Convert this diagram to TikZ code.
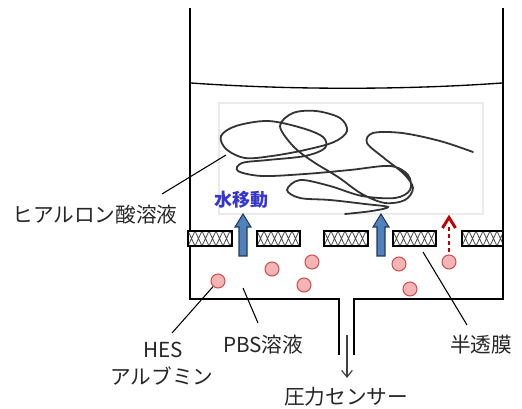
\documentclass[tikz,border=0pt]{standalone}
\usepackage{fontspec}
\setmainfont{Noto Sans CJK JP}
\usetikzlibrary{arrows.meta,calc}

\definecolor{flowblue}{HTML}{4F81BD}
\definecolor{flowedge}{HTML}{203A5C}
\definecolor{leakred}{HTML}{C00000}
\definecolor{beadfill}{HTML}{F4B4B4}
\definecolor{beadedge}{HTML}{C9504D}
\definecolor{tagblue}{HTML}{3535CF}
\definecolor{chainc}{HTML}{333333}

\tikzset{
  wall/.style={line width=1.9pt, line join=miter},
  leader/.style={line width=0.8pt, black},
  lbl/.style={font=\fontsize{15.5}{18}\selectfont, inner sep=0pt, text=black!85},
  membrane/.style={draw=black, line width=1.4pt, fill=white, inner sep=0pt,
    minimum height=11.25pt,
    path picture={
      \foreach \k in {-1,0,...,9}{
        \draw[black!70, line width=0.6pt]
          ($(path picture bounding box.north west)+(\k*5.25pt,0)$) -- ++(5.25pt,-11.25pt)
          ++(-5.25pt,0) -- ++(5.25pt,11.25pt);
      }}},
  bead/.style={circle, draw=beadedge, fill=beadfill, line width=0.8pt,
    minimum size=10.5pt, inner sep=0pt},
  waterflow/.style={draw=flowedge, fill=flowblue, line width=0.8pt, line join=miter},
}

\begin{document}
\begin{tikzpicture}[x=0.75pt, y=-0.75pt]
\useasboundingbox (0,0) rectangle (522,409);

% vessel walls with the outlet to the sensor
\draw[wall] (190,8) -- (190,299) -- (339,299) -- (339,355);
\draw[wall] (354,355) -- (354,299) -- (503,299) -- (503,8);

% liquid surface
\draw[line width=1pt] (191,83) .. controls (290,90) and (405,90) .. (502,83);

% light frame around the polymer chain
\draw[black!8, line width=0.8pt] (219,103) rectangle (483,214);

% hyaluronic acid chain
\draw[chainc, line width=1.35pt, line cap=round]
  plot[smooth, tension=0.55] coordinates {
   (473,152) (440,141) (402,133) (373,133) (367,143) (384,158) (404,174)
   (413,188) (405,200) (385,203) (362,194) (338,177) (312,161) (293,146)
   (280,126) (293,113) (316,111) (340,118) (347,131) (334,142) (305,150)
   (272,156) (245,158) (226,149) (221,136) (236,126) (268,121) (302,128)
   (323,137) (325,148) (305,156) (268,160) (242,163) (238,171) (262,176)
   (305,174) (350,170) (390,166) (408,175) (410,190) (395,198) (362,196)
   (330,186) (300,180) (287,190) (300,198) (330,200) (365,204) (388,207)
   (372,211) (345,214)};

% semipermeable membrane segments
\node[membrane, minimum width=33pt] (m1) at (210,238.5) {};
\node[membrane, minimum width=32.25pt] (m2) at (278.5,238.5) {};
\node[membrane, minimum width=33pt] (m3) at (346,238.5) {};
\node[membrane, minimum width=32.25pt] (m4) at (414.5,238.5) {};
\node[membrane, minimum width=30.75pt] (m5) at (482.5,238.5) {};

% water flow arrows
\foreach \c in {243,381}{
  \draw[waterflow] (\c-4,256) -- (\c-4,227) -- (\c-8,227) -- (\c,214)
    -- (\c+8,227) -- (\c+4,227) -- (\c+4,256) -- cycle;
}

% dotted leak arrow
\draw[leakred, line width=2.2pt, dash pattern=on 3pt off 2.2pt] (449,252) -- (449,227);
\draw[leakred, line width=2.2pt, line join=miter] (442.5,228) -- (449,217.5) -- (455.5,228);

% solute particles
\node[bead] (b1) at (218,281) {};
\node[bead] (b2) at (272,269) {};
\node[bead] (b3) at (312,262) {};
\node[bead] (b4) at (304,285) {};
\node[bead] (b5) at (399,264) {};
\node[bead] (b6) at (410,289) {};
\node[bead] (b7) at (449,262) {};

% pressure line to the sensor
\coordinate (outTop) at (347,335);
\coordinate (outEnd) at (347,378);
\draw[black!75, line width=0.9pt, -{Straight Barb[length=5pt,width=8pt]}] (outTop) -- (outEnd);

% labels
\node[lbl] (hyal) at (95,215) {ヒアルロン酸溶液};
\node[font=\fontsize{13.5}{16}\selectfont\bfseries, text=tagblue, inner sep=0pt] (flow) at (241,200) {水移動};
\node[lbl] (pbs) at (263,345) {PBS溶液};
\node[lbl] (hes) at (163,350) {HES};
\node[lbl] (alb) at (162,376) {アルブミン};
\node[lbl] (memb) at (481,345) {半透膜};
\node[lbl] (sensor) at (346,397) {圧力センサー};

% leader lines
\coordinate (hyalA) at (162,194);
\coordinate (hyalB) at (226,155);
\draw[leader] (hyalA) -- (hyalB);
\coordinate (hesB) at (172,333);
\draw[leader] (b1) -- (hesB);
\coordinate (pbsA) at (243,288);
\coordinate (pbsB) at (258,323);
\draw[leader] (pbsA) -- (pbsB);
\coordinate (membA) at (423,252);
\coordinate (membB) at (467,325);
\draw[leader] (membA) -- (membB);
\end{tikzpicture}
\end{document}
